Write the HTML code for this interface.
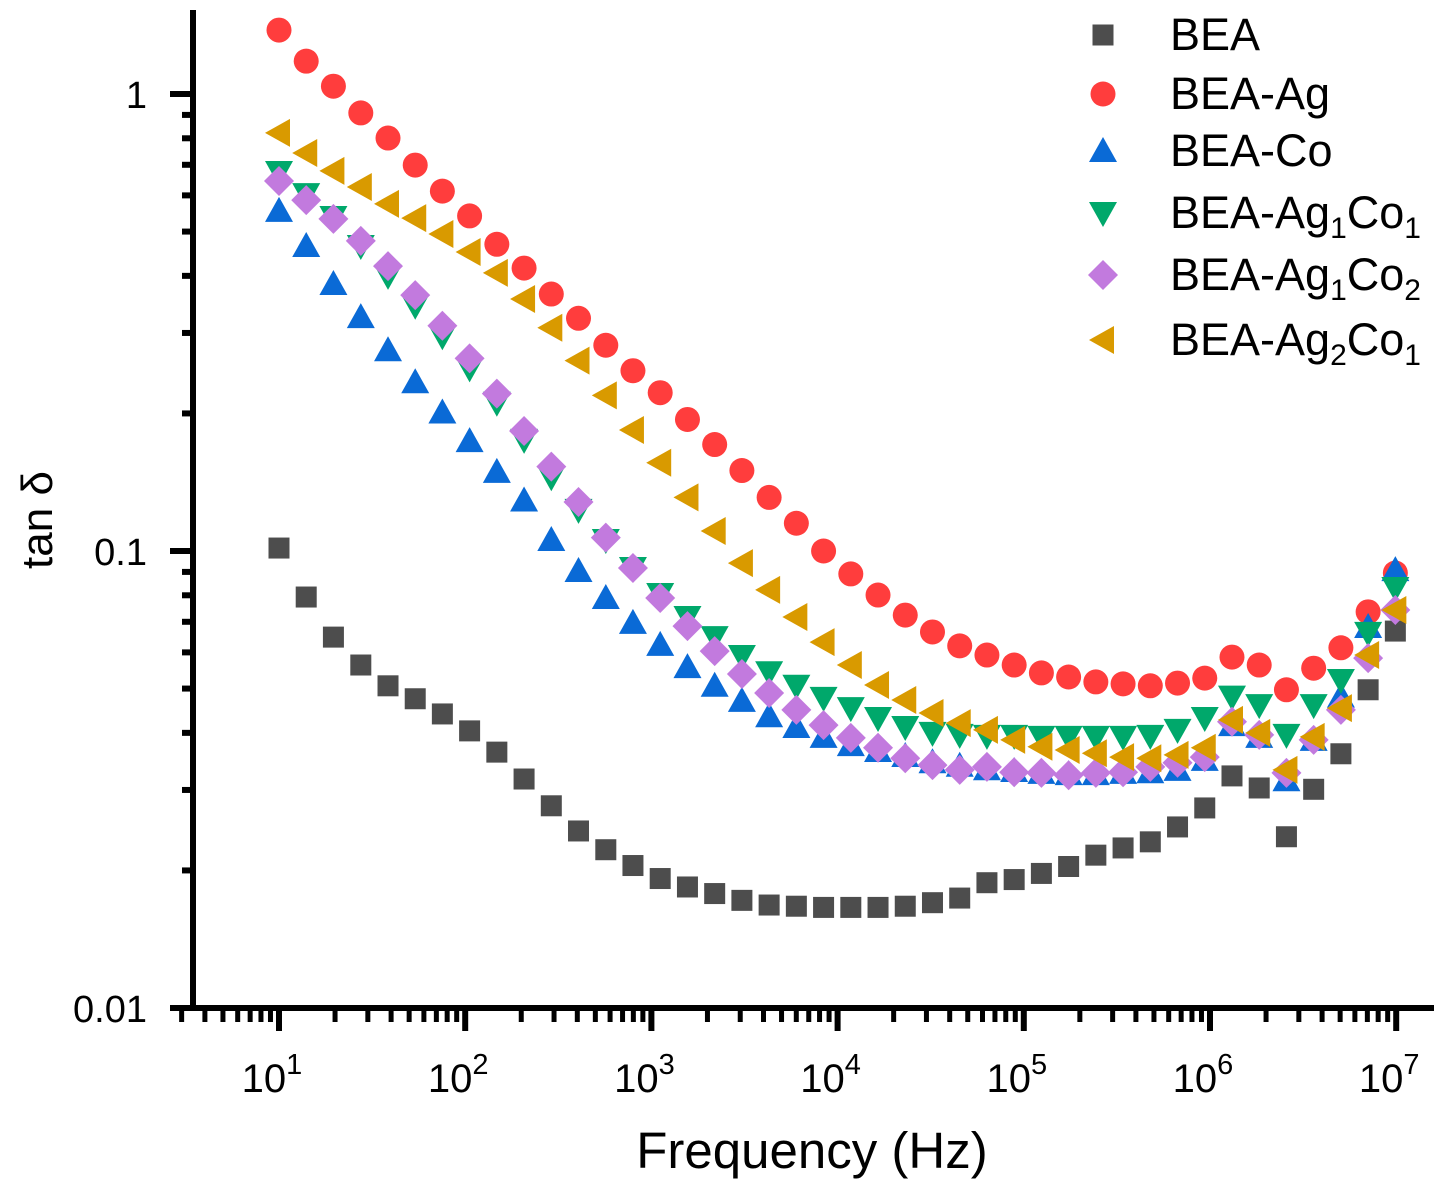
<!DOCTYPE html>
<html><head><meta charset="utf-8"><style>
html,body{margin:0;padding:0;background:#fff}
svg{display:block;font-family:"Liberation Sans",Arial,sans-serif}
</style></head><body>
<svg id="chart" width="1440" height="1179" viewBox="0 0 1440 1179" xmlns="http://www.w3.org/2000/svg">
<g id="axes"></g>
<g id="marks"></g>
<g id="legend"></g>
<text transform="translate(52,520) rotate(-90)" text-anchor="middle" font-size="44">tan δ</text>
<text x="812" y="1168" text-anchor="middle" font-size="51">Frequency (Hz)</text>
</svg>
<script>
const freqs = [10,14.0,19.6,27.5,38.5,53.9,75.4,105.6,147.9,207.1,290,406,569,796,1115,1562,2187,3062,4288,6005,8408,11774,16487,23087,32329,45270,63393,88770,124307,174068,243750,341327,477964,669303,937240,1312434,1837829,2573551,3603802,5046479,7066696,9895659];
const seriesNames = ["BEA","BEA-Ag","BEA-Co","BEA-Ag1Co1","BEA-Ag1Co2","BEA-Ag2Co1"];
const bea = [0.1015,0.0793,0.0648,0.0563,0.0507,0.0475,0.0440,0.0404,0.0363,0.0317,0.0277,0.0244,0.0222,0.0205,0.0192,0.0184,0.0178,0.0172,0.0168,0.0167,0.0166,0.0166,0.0166,0.0167,0.0170,0.0174,0.0188,0.0191,0.0197,0.0204,0.0216,0.0224,0.0231,0.0249,0.0274,0.0322,0.0303,0.0237,0.0301,0.0360,0.0497,0.0668];
const beaAg = [1.38,1.18,1.04,0.909,0.801,0.699,0.613,0.541,0.469,0.416,0.365,0.323,0.282,0.248,0.222,0.194,0.171,0.150,0.131,0.115,0.100,0.0891,0.0801,0.0724,0.0665,0.0620,0.0592,0.0563,0.0541,0.0530,0.0517,0.0512,0.0507,0.0514,0.0527,0.0586,0.0563,0.0497,0.0554,0.0614,0.0736,0.0895];
const beaCo = [0.555,0.465,0.384,0.325,0.275,0.234,0.201,0.174,0.149,0.129,0.1057,0.0904,0.0789,0.0696,0.0623,0.0557,0.0507,0.0470,0.0435,0.0412,0.0392,0.0376,0.0365,0.0356,0.0345,0.0339,0.0333,0.0330,0.0327,0.0325,0.0325,0.0327,0.0328,0.0332,0.0349,0.0416,0.0392,0.0315,0.0386,0.0480,0.0682,0.0908];
const beaAg1Co1 = [0.675,0.604,0.538,0.465,0.400,0.344,0.295,0.251,0.211,0.175,0.145,0.123,0.1057,0.0918,0.0805,0.0717,0.0648,0.0589,0.0543,0.0507,0.0477,0.0453,0.0431,0.0412,0.0400,0.0396,0.0394,0.0394,0.0392,0.0392,0.0392,0.0392,0.0394,0.0406,0.0431,0.0480,0.0460,0.0396,0.0460,0.0522,0.0662,0.0830];
const beaAg1Co2 = [0.645,0.586,0.533,0.477,0.420,0.363,0.311,0.264,0.221,0.183,0.153,0.128,0.107,0.0918,0.0789,0.0685,0.0604,0.0538,0.0489,0.0449,0.0416,0.0390,0.0371,0.0352,0.0340,0.0332,0.0337,0.0328,0.0327,0.0323,0.0327,0.0328,0.0337,0.0344,0.0354,0.0423,0.0396,0.0327,0.0386,0.0449,0.0583,0.0743];
const beaAg2Co1 = [0.822,0.743,0.679,0.626,0.575,0.535,0.494,0.451,0.406,0.356,0.308,0.261,0.219,0.184,0.156,0.131,0.1106,0.0941,0.0822,0.0717,0.0632,0.0563,0.0509,0.0472,0.0442,0.0420,0.0406,0.0386,0.0373,0.0367,0.0361,0.0354,0.0352,0.0358,0.0371,0.0427,0.0400,0.0332,0.0392,0.0453,0.0592,0.0743];
const xTickExps = [1,2,3,4,5,6,7];
const yTickLabels = ["1","0.1","0.01"];
const yTickValues = [1,0.1,0.01];

const NS="http://www.w3.org/2000/svg";
function xs(f){return 279+(Math.log10(f)-1)*186.2;}
function ys(v){return 94-Math.log10(v)*457;}
function mk(tag,attrs,parent){const e=document.createElementNS(NS,tag);for(const k in attrs)e.setAttribute(k,attrs[k]);parent.appendChild(e);return e;}
const axes=document.getElementById('axes'),marks=document.getElementById('marks'),legend=document.getElementById('legend');

let l=mk('line',{x1:170,y1:1008,x2:1434,y2:1008,stroke:'#000','stroke-width':6},axes);


l=mk('line',{x1:193,y1:10,x2:193,y2:1011,stroke:'#000','stroke-width':6},axes);



for(let d=0;d<=7;d++){for(let m=1;m<10;m++){const f=m*Math.pow(10,d);const x=xs(f);if(x<172||x>1432)continue;
 const major=(m===1);const t=mk('line',{x1:x,y1:1008,x2:x,y2:major?1031:1022,stroke:'#000','stroke-width':major?6:5},axes);
 
 }}
xTickExps.forEach(e=>{const x=xs(Math.pow(10,e));const t=mk('text',{x:x-7,y:1092,'text-anchor':'middle','font-size':40},axes);
 
 
 t.textContent='10';const s=mk('tspan',{dy:-18,'font-size':29},t);s.textContent=String(e);});
for(let d=-2;d<=1;d++){for(let m=1;m<10;m++){const v=m*Math.pow(10,d);const y=ys(v);if(y<12||y>1008)continue;
 const major=(m===1);const t=mk('line',{x1:major?170:182,y1:y,x2:193,y2:y,stroke:'#000','stroke-width':6},axes);
 
 }}
yTickValues.forEach((v,i)=>{const t=mk('text',{x:147,y:ys(v)+14,'text-anchor':'end','font-size':38},axes);
 
 
 t.textContent=yTickLabels[i];});

function marker(shape,color,x,y,parent){
 let e;
 if(shape==='square')e=mk('rect',{x:x-10.5,y:y-10.5,width:21,height:21,fill:color},parent);
 else if(shape==='circle')e=mk('circle',{cx:x,cy:y,r:12.5,fill:color},parent);
 else if(shape==='up')e=mk('polygon',{points:`${x},${y-14} ${x+14},${y+11} ${x-14},${y+11}`,fill:color},parent);
 else if(shape==='down')e=mk('polygon',{points:`${x},${y+14} ${x+14},${y-11} ${x-14},${y-11}`,fill:color},parent);
 else if(shape==='diamond')e=mk('polygon',{points:`${x},${y-15} ${x+15},${y} ${x},${y+15} ${x-15},${y}`,fill:color},parent);
 else e=mk('polygon',{points:`${x-14},${y} ${x+11},${y-14} ${x+11},${y+14}`,fill:color},parent);
 return e;}
const series=[[bea,'square','#4d4d4d'],[beaAg,'circle','#ff3d3d'],[beaCo,'up','#0a6ad6'],[beaAg1Co1,'down','#00a86b'],[beaAg1Co2,'diamond','#c27ade'],[beaAg2Co1,'left','#d99a00']];
series.forEach((s,si)=>{const g=mk('g',{},marks);
 
 
 s[0].forEach((v,i)=>{const p=marker(s[1],s[2],xs(freqs[i]),ys(v),g);
  
  });});

const legY=[35,94,151,213,275,340];
const legLabels=[["BEA"],["BEA-Ag"],["BEA-Co"],["BEA-Ag","1","Co","1"],["BEA-Ag","1","Co","2"],["BEA-Ag","2","Co","1"]];
series.forEach((s,i)=>{const g=mk('g',{},legend);
 
 
 marker(s[1],s[2],1103,legY[i],g);
 const t=mk('text',{x:1170,y:legY[i]+15,'font-size':45},g);
 legLabels[i].forEach((p,j)=>{const sp=mk('tspan',{},t);
  if(j%2===1){sp.setAttribute('font-size',30);sp.setAttribute('dy',10);}else if(j>0){sp.setAttribute('dy',-10);}
  sp.textContent=p;});});
</script>
</body></html>
